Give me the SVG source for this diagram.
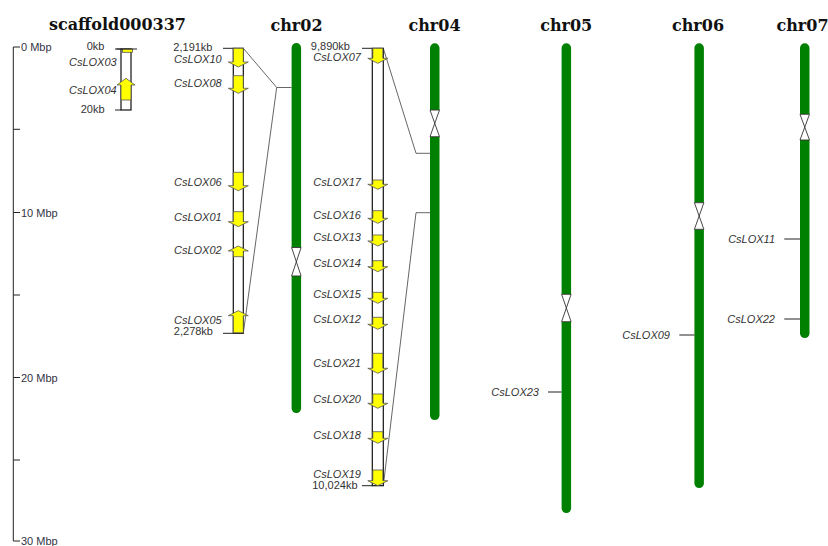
<svg xmlns="http://www.w3.org/2000/svg" width="828" height="546" viewBox="0 0 828 546">
<style>
.title{font-family:"DejaVu Serif",serif;font-weight:bold;font-size:16px;fill:#111;text-anchor:middle}
.lbl{font-family:"Liberation Sans",Arial,sans-serif;font-style:italic;font-size:11px;fill:#333;text-anchor:end}
.kb{font-family:"Liberation Sans",Arial,sans-serif;font-size:11px;fill:#333;text-anchor:end}
.ax{font-family:"Liberation Sans",Arial,sans-serif;font-size:11px;fill:#334}
.axl{stroke:#222;stroke-width:1;fill:none}
.box{fill:#fff;stroke:#111;stroke-width:1.2}
.gene{fill:#ffff00;stroke:#555;stroke-width:0.8}
.chr{fill:#008000}
.cen{fill:#fff;stroke:#333;stroke-width:0.9}
.tick{stroke:#222;stroke-width:1}
.conn{stroke:#555;stroke-width:0.9;fill:none}
</style>

<g id="axis">
<path class="axl" d="M20,47 H13.3 V541 H20"/>
<line class="tick" x1="13.3" y1="129.3" x2="20" y2="129.3"/>
<line class="tick" x1="13.3" y1="212.5" x2="20" y2="212.5"/>
<line class="tick" x1="13.3" y1="295" x2="20" y2="295"/>
<line class="tick" x1="13.3" y1="377.5" x2="20" y2="377.5"/>
<line class="tick" x1="13.3" y1="460" x2="20" y2="460"/>
<text class="ax" x="21" y="51">0 Mbp</text>
<text class="ax" x="21" y="216.5">10 Mbp</text>
<text class="ax" x="21" y="381.5">20 Mbp</text>
<text class="ax" x="21" y="545">30 Mbp</text>
</g>

<g id="titles">
<text class="title" x="117.5" y="30">scaffold000337</text>
<text class="title" x="296.5" y="31">chr02</text>
<text class="title" x="434.5" y="31">chr04</text>
<text class="title" x="566.2" y="31">chr05</text>
<text class="title" x="698" y="31">chr06</text>
<text class="title" x="802.5" y="31">chr07</text>
</g>

<g id="connectors">
<polyline class="conn" points="243.3,48.3 276.7,87.5 291.6,87.5"/>
<line class="conn" x1="243.3" y1="333.3" x2="276.7" y2="87.5"/>
<polyline class="conn" points="383.3,48.3 416,153.3 430,153.3"/>
<polyline class="conn" points="383.3,485.7 416,212.7 430,212.7"/>
</g>

<g id="scaffold000337">
<rect class="box" x="121" y="49" width="10" height="61"/>
<line class="tick" x1="115" y1="49" x2="121" y2="49"/>
<line class="tick" x1="115" y1="110" x2="121" y2="110"/>
<rect class="gene" x="122.5" y="49" width="10" height="3.3"/>
<line class="tick" x1="116.5" y1="49" x2="137" y2="49"/>
<polygon class="gene" points="126,78.3 135,85 131,85 131,100 121,100 121,85 117,85"/>
<text class="kb" x="104.5" y="50">0kb</text>
<text class="lbl" x="116.7" y="66">CsLOX03</text>
<text class="lbl" x="116.7" y="94">CsLOX04</text>
<text class="kb" x="104.5" y="113">20kb</text>
</g>

<g id="chr02-zoom">
<rect class="box" x="233.3" y="48.3" width="10" height="285"/>
<line class="tick" x1="223" y1="48.3" x2="233.3" y2="48.3"/>
<line class="tick" x1="223" y1="333.3" x2="233.3" y2="333.3"/>
<polygon class="gene" points="233.3,48.3 243.3,48.3 243.3,62 248.3,62 238.3,67 228.3,62 233.3,62"/>
<polygon class="gene" points="233.3,75.7 243.3,75.7 243.3,88.3 248.3,88.3 238.3,93.3 228.3,88.3 233.3,88.3"/>
<polygon class="gene" points="233.3,172.3 243.3,172.3 243.3,185.7 248.3,185.7 238.3,190.7 228.3,185.7 233.3,185.7"/>
<polygon class="gene" points="233.3,211.7 243.3,211.7 243.3,221.7 248.3,221.7 238.3,226.7 228.3,221.7 233.3,221.7"/>
<polygon class="gene" points="238.3,246 248.3,251 243.3,251 243.3,256.7 233.3,256.7 233.3,251 228.3,251"/>
<polygon class="gene" points="238.3,310.7 248.3,315.7 243.3,315.7 243.3,332.7 233.3,332.7 233.3,315.7 228.3,315.7"/>
<text class="kb" x="212.5" y="51">2,191kb</text>
<text class="lbl" x="221.7" y="63">CsLOX10</text>
<text class="lbl" x="221.7" y="87">CsLOX08</text>
<text class="lbl" x="221.7" y="186">CsLOX06</text>
<text class="lbl" x="221.7" y="221">CsLOX01</text>
<text class="lbl" x="221.7" y="254">CsLOX02</text>
<text class="lbl" x="221.7" y="324">CsLOX05</text>
<text class="kb" x="213" y="335">2,278kb</text>
</g>

<g id="chr04-zoom">
<rect class="box" x="372.3" y="48.3" width="11" height="437.4"/>
<line class="tick" x1="362" y1="48.3" x2="372.3" y2="48.3"/>
<line class="tick" x1="362" y1="485.7" x2="372.3" y2="485.7"/>
<polygon class="gene" points="372.8,48.3 382.8,48.3 382.8,58.3 387.8,58.3 377.8,63.3 367.8,58.3 372.8,58.3"/>
<polygon class="gene" points="372.8,180 382.8,180 382.8,184.3 387.8,184.3 377.8,189.3 367.8,184.3 372.8,184.3"/>
<polygon class="gene" points="372.8,210.7 382.8,210.7 382.8,218.3 387.8,218.3 377.8,223.3 367.8,218.3 372.8,218.3"/>
<polygon class="gene" points="372.8,235 382.8,235 382.8,241 387.8,241 377.8,246 367.8,241 372.8,241"/>
<polygon class="gene" points="372.8,260.7 382.8,260.7 382.8,266.7 387.8,266.7 377.8,271.7 367.8,266.7 372.8,266.7"/>
<polygon class="gene" points="372.8,292.3 382.8,292.3 382.8,298.3 387.8,298.3 377.8,303.3 367.8,298.3 372.8,298.3"/>
<polygon class="gene" points="372.8,317.3 382.8,317.3 382.8,324.3 387.8,324.3 377.8,329.3 367.8,324.3 372.8,324.3"/>
<polygon class="gene" points="372.8,353.3 382.8,353.3 382.8,368.3 387.8,368.3 377.8,373.3 367.8,368.3 372.8,368.3"/>
<polygon class="gene" points="372.8,394 382.8,394 382.8,403.3 387.8,403.3 377.8,408.3 367.8,403.3 372.8,403.3"/>
<polygon class="gene" points="372.8,431.7 382.8,431.7 382.8,438.3 387.8,438.3 377.8,443.3 367.8,438.3 372.8,438.3"/>
<polygon class="gene" points="372.8,470 382.8,470 382.8,480.7 387.8,480.7 377.8,485.7 367.8,480.7 372.8,480.7"/>
<text class="kb" x="350" y="49.5">9,890kb</text>
<text class="lbl" x="361" y="60.7">CsLOX07</text>
<text class="lbl" x="361" y="185.5">CsLOX17</text>
<text class="lbl" x="361" y="219">CsLOX16</text>
<text class="lbl" x="361" y="241">CsLOX13</text>
<text class="lbl" x="361" y="267">CsLOX14</text>
<text class="lbl" x="361" y="298">CsLOX15</text>
<text class="lbl" x="361" y="323">CsLOX12</text>
<text class="lbl" x="361" y="366.7">CsLOX21</text>
<text class="lbl" x="361" y="403">CsLOX20</text>
<text class="lbl" x="361" y="439">CsLOX18</text>
<text class="lbl" x="361" y="477.5">CsLOX19</text>
<text class="kb" x="357.5" y="488.5">10,024kb</text>
</g>

<g id="chr02">
<path class="chr" d="M291.6,247.5 V47.8 A4.75,4.75 0 0 1 301.1,47.8 V247.5 Z"/>
<path class="chr" d="M291.6,276 V408.3 A4.75,4.75 0 0 0 301.1,408.3 V276 Z"/>
<polygon class="cen" points="291.6,247.5 301.1,247.5 291.6,276 301.1,276"/>
</g>

<g id="chr04">
<path class="chr" d="M430,110 V48 A4.75,4.75 0 0 1 439.5,48 V110 Z"/>
<path class="chr" d="M430,136.7 V415.3 A4.75,4.75 0 0 0 439.5,415.3 V136.7 Z"/>
<polygon class="cen" points="430,110 439.5,110 430,136.7 439.5,136.7"/>
</g>

<g id="chr05">
<path class="chr" d="M561.6,294.3 V48 A4.75,4.75 0 0 1 571.1,48 V294.3 Z"/>
<path class="chr" d="M561.6,321.7 V508.3 A4.75,4.75 0 0 0 571.1,508.3 V321.7 Z"/>
<polygon class="cen" points="561.6,294.3 571.1,294.3 561.6,321.7 571.1,321.7"/>
<line class="tick" x1="548" y1="392" x2="561.6" y2="392"/>
<text class="lbl" x="539" y="396">CsLOX23</text>
</g>

<g id="chr06">
<path class="chr" d="M694.4,202.7 V48 A4.75,4.75 0 0 1 703.9,48 V202.7 Z"/>
<path class="chr" d="M694.4,229.3 V483.3 A4.75,4.75 0 0 0 703.9,483.3 V229.3 Z"/>
<polygon class="cen" points="694.4,202.7 703.9,202.7 694.4,229.3 703.9,229.3"/>
<line class="tick" x1="679.3" y1="335" x2="694.4" y2="335"/>
<text class="lbl" x="670" y="339">CsLOX09</text>
</g>

<g id="chr07">
<path class="chr" d="M800,114.3 V48 A4.75,4.75 0 0 1 809.5,48 V114.3 Z"/>
<path class="chr" d="M800,140 V333.3 A4.75,4.75 0 0 0 809.5,333.3 V140 Z"/>
<polygon class="cen" points="800,114.3 809.5,114.3 800,140 809.5,140"/>
<line class="tick" x1="784.3" y1="239" x2="800" y2="239"/>
<line class="tick" x1="784.3" y1="319" x2="800" y2="319"/>
<text class="lbl" x="775" y="242.5">CsLOX11</text>
<text class="lbl" x="775" y="322.7">CsLOX22</text>
</g>
</svg>
